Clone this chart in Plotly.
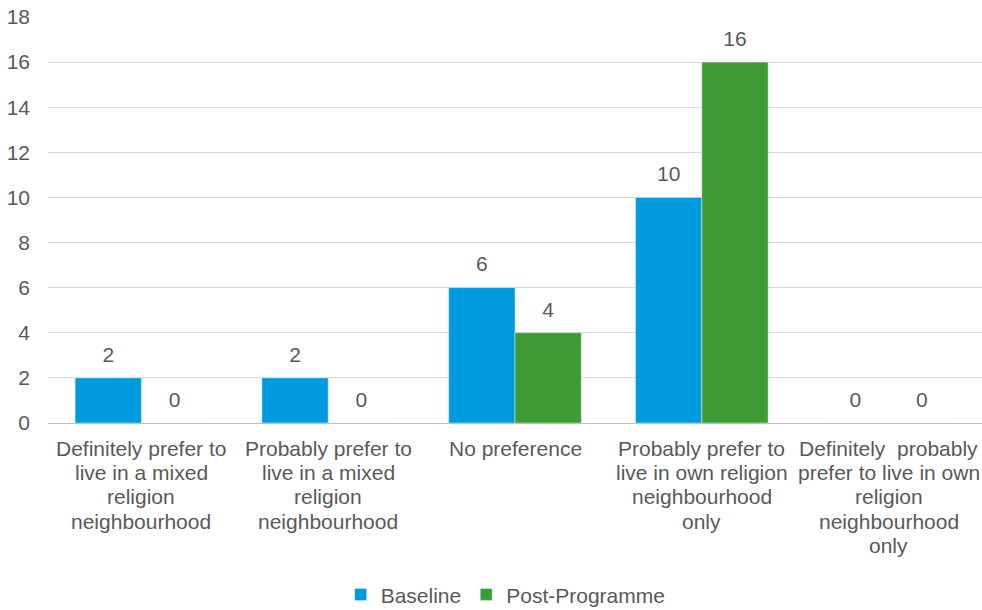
import plotly.graph_objects as go

categories = [
    "Definitely prefer to<br>live in a mixed<br>religion<br>neighbourhood",
    "Probably prefer to<br>live in a mixed<br>religion<br>neighbourhood",
    "No preference",
    "Probably prefer to<br>live in own religion<br>neighbourhood<br>only",
    "Definitely  probably<br>prefer to live in own<br>religion<br>neighbourhood<br>only",
]
baseline = [2, 2, 6, 10, 0]
post_programme = [0, 0, 4, 16, 0]
y_ticks = [0, 2, 4, 6, 8, 10, 12, 14, 16, 18]

font_family = "Liberation Sans, Arial, sans-serif"
text_color = "#595959"
FS = 21
BARGAP = 0.29

fig = go.Figure()
for name, vals, col in [("Baseline", baseline, "#009ADE"),
                        ("Post-Programme", post_programme, "#3F9C35")]:
    fig.add_trace(go.Bar(
        name=name, x=categories, y=vals, marker_color=col,
        offsetgroup=name, legendgroup=name,
    ))
for name, vals in [("Baseline", baseline), ("Post-Programme", post_programme)]:
    fig.add_trace(go.Scatter(
        x=categories, y=vals, mode="markers+text", text=[str(v) for v in vals],
        textposition="top center", offsetgroup=name, showlegend=False,
        marker=dict(size=16, color="rgba(0,0,0,0)"), cliponaxis=False,
        textfont=dict(size=FS, color=text_color, family=font_family),
        hoverinfo="skip",
    ))

# category labels drawn line by line for tighter line spacing
for cat in categories:
    for i, line in enumerate(cat.split("<br>")):
        fig.add_annotation(
            x=cat, y=0, xref="x", yref="paper", text=line, showarrow=False,
            yanchor="middle", xanchor="center", yshift=-(25 + i * 24.4),
            font=dict(size=FS, color=text_color, family=font_family),
        )

fig.update_layout(
    width=982, height=610,
    margin=dict(l=48, r=0, t=17, b=187, autoexpand=False),
    paper_bgcolor="white", plot_bgcolor="white",
    barmode="group", bargap=BARGAP, bargroupgap=0,
    scattermode="group", scattergap=BARGAP,
    font=dict(family=font_family, size=FS, color=text_color),
    showlegend=True,
    legend=dict(orientation="h", x=0.49, xanchor="center",
                yref="container", y=0.025, yanchor="middle",
                font=dict(size=FS, color=text_color), itemwidth=30,
                traceorder="normal"),
    xaxis=dict(showgrid=False, showline=False, ticks="", showticklabels=False),
    yaxis=dict(range=[0, 18], tickvals=y_ticks, showgrid=True, gridcolor="#d9d9d9",
               gridwidth=1, zeroline=True, zerolinecolor="#bfbfbf", zerolinewidth=1,
               showline=False, ticks="", ticklabelstandoff=17,
               tickfont=dict(size=FS, color=text_color)),
)

fig.write_html("out.html")
